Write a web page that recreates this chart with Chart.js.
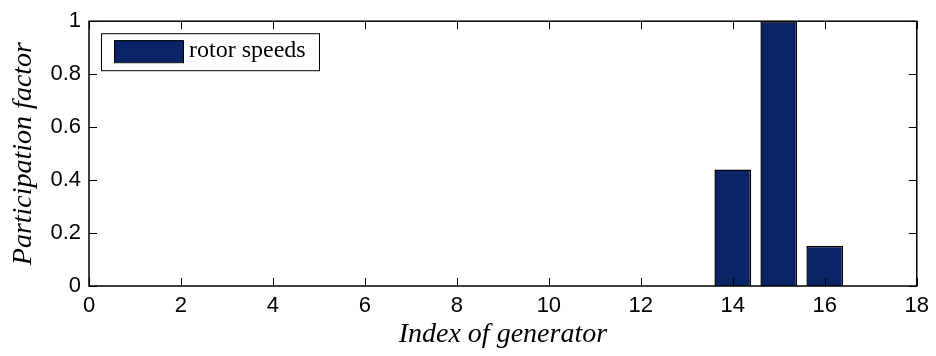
<!DOCTYPE html>
<html>
<head>
<meta charset="utf-8">
<script src="https://cdn.jsdelivr.net/npm/chart.js@4"></script>
<style>
html,body{margin:0;padding:0;background:#fff;}
#wrap{width:936px;height:356px;}
</style>
</head>
<body>
<div id="wrap"><canvas id="c" width="936" height="356"></canvas></div>
<script>
const generators = [1,2,3,4,5,6,7,8,9,10,11,12,13,14,15,16];
const participation = [0,0,0,0,0,0,0,0,0,0,0,0,0,0.44,1.0,0.152];
const xTicks = [0,2,4,6,8,10,12,14,16,18];
const yTicks = [0,0.2,0.4,0.6,0.8,1];
const seriesLabel = 'rotor speeds';
const barColor = 'rgb(10,35,100)';

const points = generators.map((g,i)=>({x:g,y:participation[i]}));

const frame = {
  id:'frame',
  afterDraw(chart){
    const {ctx, chartArea:a, scales:{x,y}} = chart;
    ctx.save();
    ctx.strokeStyle = '#000';
    ctx.lineWidth = 1;
    const tl = 8;
    ctx.beginPath();
    xTicks.forEach(v=>{
      const px = Math.round(x.getPixelForValue(v))+0.5;
      ctx.moveTo(px,a.bottom); ctx.lineTo(px,a.bottom-tl);
      ctx.moveTo(px,a.top); ctx.lineTo(px,a.top+tl);
    });
    yTicks.forEach(v=>{
      const py = Math.round(y.getPixelForValue(v))+0.5;
      ctx.moveTo(a.left,py); ctx.lineTo(a.left+tl,py);
      ctx.moveTo(a.right,py); ctx.lineTo(a.right-tl,py);
    });
    ctx.stroke();
    ctx.lineWidth = 1.5;
    ctx.strokeRect(a.left, a.top, a.right-a.left, a.bottom-a.top);
    // legend
    const lx = a.left+12, ly = a.top+12, lw = 218, lh = 37;
    ctx.fillStyle='#fff';
    ctx.fillRect(lx,ly,lw,lh);
    ctx.lineWidth = 1;
    ctx.strokeRect(lx+0.5,ly+0.5,lw,lh);
    ctx.fillStyle = barColor;
    ctx.fillRect(lx+13,ly+7,69,22);
    ctx.strokeRect(lx+13.5,ly+7.5,69,22);
    ctx.fillStyle='#000';
    ctx.font = '24px "Liberation Serif"';
    ctx.textBaseline='middle';
    ctx.textAlign='left';
    ctx.fillText(seriesLabel, lx+88, ly+18);
    ctx.restore();
  }
};

new Chart(document.getElementById('c'),{
  type:'bar',
  data:{datasets:[{label:seriesLabel,data:points,backgroundColor:barColor,borderColor:'#000',borderWidth:1.5,barPercentage:0.8,categoryPercentage:1}]},
  options:{
    responsive:false,animation:false,
    layout:{padding:{top:15,right:18,bottom:0,left:0}},
    plugins:{legend:{display:false},tooltip:{enabled:false}},
    scales:{
      x:{type:'linear',min:0,max:18,offset:false,
        afterBuildTicks(s){s.ticks=xTicks.map(v=>({value:v}));},
        afterFit(s){s.height=70;},
        grid:{display:false,drawTicks:false},border:{display:false},
        ticks:{color:'#000',font:{family:'Liberation Sans',size:22},padding:7,maxRotation:0},
        title:{display:true,text:'Index of generator',color:'#000',font:{family:'Liberation Serif',size:28,style:'italic'},padding:{top:0,bottom:5}}
      },
      y:{type:'linear',min:0,max:1,
        afterBuildTicks(s){s.ticks=yTicks.map(v=>({value:v}));},
        afterFit(s){s.width=89;},
        grid:{display:false,drawTicks:false},border:{display:false},
        ticks:{color:'#000',font:{family:'Liberation Sans',size:22},padding:8,callback:v=>String(v)},
        title:{display:true,text:'Participation factor',color:'#000',font:{family:'Liberation Serif',size:28,style:'italic'},padding:{top:7,bottom:0}}
      }
    }
  },
  plugins:[frame]
});
</script>
</body>
</html>
